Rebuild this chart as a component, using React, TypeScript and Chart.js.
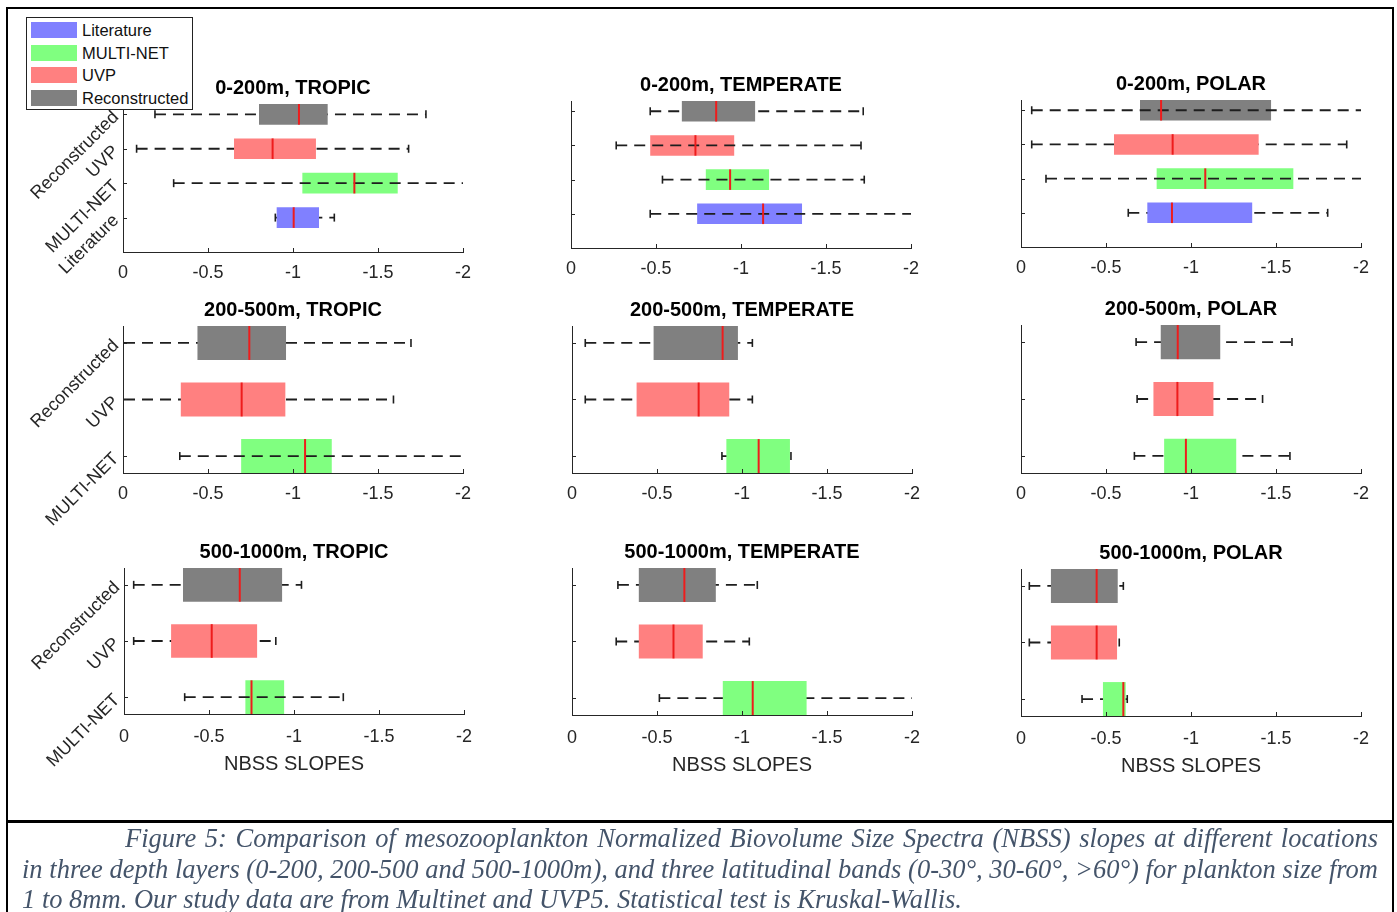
import React, { useEffect, useRef } from 'react';
import { Chart, registerables } from 'chart.js';

Chart.register(...registerables);
Chart.defaults.font.family = "'Liberation Sans', Arial, Helvetica, sans-serif";

// ---------------- data ----------------
// groups listed bottom -> top
const GROUPS_TOP = ['Literature', 'MULTI-NET', 'UVP', 'Reconstructed'];
const GROUPS_DEEP = ['MULTI-NET', 'UVP', 'Reconstructed'];
const LEGEND_ITEMS = ['Literature', 'MULTI-NET', 'UVP', 'Reconstructed'];
const X_TICKS = [0, -0.5, -1, -1.5, -2];
const X_LABEL = 'NBSS SLOPES';
const PANEL_TITLES = [
  '0-200m, TROPIC', '0-200m, TEMPERATE', '0-200m, POLAR',
  '200-500m, TROPIC', '200-500m, TEMPERATE', '200-500m, POLAR',
  '500-1000m, TROPIC', '500-1000m, TEMPERATE', '500-1000m, POLAR',
];

// one row per panel, values in group order (bottom -> top)
const WHISKER_LOW = [
  [-0.896, -0.298, -0.08, -0.188],
  [-0.466, -0.538, -0.266, -0.466],
  [-0.631, -0.147, -0.063, -0.063],
  [-0.334, 0.1, 0.1],
  [-0.882, -0.078, -0.078],
  [-0.667, -0.683, -0.677],
  [-0.357, -0.057, -0.057],
  [-0.514, -0.26, -0.27],
  [-0.359, -0.049, -0.049],
];
const Q1 = [
  [-0.904, -1.055, -0.653, -0.8],
  [-0.742, -0.793, -0.466, -0.652],
  [-0.743, -0.798, -0.547, -0.7],
  [-0.695, -0.34, -0.438],
  [-0.908, -0.38, -0.48],
  [-0.842, -0.779, -0.822],
  [-0.714, -0.277, -0.347],
  [-0.887, -0.393, -0.393],
  [-0.482, -0.176, -0.176],
];
const MEDIAN = [
  [-1.004, -1.361, -0.88, -1.035],
  [-1.13, -0.936, -0.732, -0.854],
  [-0.888, -1.084, -0.892, -0.824],
  [-1.071, -0.698, -0.743],
  [-1.098, -0.745, -0.886],
  [-0.97, -0.92, -0.922],
  [-0.75, -0.516, -0.681],
  [-1.063, -0.597, -0.661],
  [-0.602, -0.445, -0.445],
];
const Q3 = [
  [-1.153, -1.616, -1.135, -1.204],
  [-1.359, -1.165, -0.96, -1.083],
  [-1.36, -1.602, -1.398, -1.471],
  [-1.228, -0.955, -0.959],
  [-1.282, -0.925, -0.976],
  [-1.266, -1.132, -1.172],
  [-0.942, -0.783, -0.93],
  [-1.38, -0.769, -0.846],
  [-0.616, -0.565, -0.569],
];
const WHISKER_HIGH = [
  [-1.243, -2.1, -1.68, -1.782],
  [-2.1, -1.725, -1.706, -1.719],
  [-1.804, -2.1, -1.916, -2.1],
  [-2.1, -1.591, -1.694],
  [-1.288, -1.061, -1.061],
  [-1.582, -1.421, -1.594],
  [-1.29, -0.893, -1.044],
  [-2.1, -1.043, -1.09],
  [-0.625, -0.578, -0.602],
];
// whisker line visible across the box
const DASH_THROUGH = [
  [false, true, false, false],
  [true, true, true, false],
  [false, true, false, true],
  [true, false, false],
  [false, false, false],
  [false, false, false],
  [true, false, false],
  [false, false, false],
  [false, false, false],
];

const CAPTION_LINES = [
  'Figure 5: Comparison of mesozooplankton Normalized Biovolume Size Spectra (NBSS) slopes at different locations',
  'in three depth layers (0-200, 200-500 and 500-1000m), and three latitudinal bands (0-30°, 30-60°, >60°) for plankton size from',
  '1 to 8mm. Our study data are from Multinet and UVP5. Statistical test is Kruskal-Wallis.',
];

// ---------------- style / layout ----------------
const COLORS: Record<string, string> = {
  Literature: '#8080ff',
  'MULTI-NET': '#80ff80',
  UVP: '#ff8080',
  Reconstructed: '#808080',
};
const AXIS = '#262626';
const WHISKER = '#1e1e1e';
const MEDIAN_COLOR = '#ee1c1c';
const BOX_HALF = 0.3;
const PLOT_W = 340;
const PANEL_BOX = [
  { left: 123, top: 104, bottom: 252 },
  { left: 571, top: 101, bottom: 248 },
  { left: 1021, top: 100, bottom: 247 },
  { left: 123, top: 326, bottom: 473 },
  { left: 572, top: 326, bottom: 473 },
  { left: 1021, top: 325, bottom: 473 },
  { left: 124, top: 568, bottom: 714 },
  { left: 572, top: 568, bottom: 715 },
  { left: 1021, top: 569, bottom: 716 },
];

const innerTicks = {
  id: 'innerTicks',
  afterDatasetsDraw(chart: any) {
    const { ctx, chartArea, scales } = chart;
    const x = scales.x;
    const y = scales.y;
    ctx.save();
    ctx.strokeStyle = AXIS;
    ctx.lineWidth = 1;
    ctx.beginPath();
    x.ticks.forEach((t: any) => {
      const px = Math.round(x.getPixelForValue(t.value)) + 0.5;
      ctx.moveTo(px, chartArea.bottom);
      ctx.lineTo(px, chartArea.bottom - 4);
    });
    y.ticks.forEach((t: any) => {
      const py = Math.round(y.getPixelForValue(t.value)) + 0.5;
      ctx.moveTo(chartArea.left, py);
      ctx.lineTo(chartArea.left + 4, py);
    });
    ctx.stroke();
    ctx.restore();
  },
};

function Panel({ idx }: { idx: number }) {
  const ref = useRef<HTMLCanvasElement>(null);
  const box = PANEL_BOX[idx];
  const col = idx % 3;
  const row = Math.floor(idx / 3);
  const L = col === 0 ? 115 : 45;
  const B = row === 0 ? 60 : row === 1 ? 85 : 80;
  const T = 32;
  const plotH = box.bottom - box.top;
  const w = PLOT_W + 2 * L;
  const h = T + plotH + B;

  useEffect(() => {
    const groups = row === 0 ? GROUPS_TOP : GROUPS_DEEP;
    const cats = groups.map((_, i) => i + 1);
    const yMin = row === 0 ? 0 : 0.7;
    const yMax = row === 0 ? 4.3 : 3.3;
    const datasets: any[] = [];
    datasets.push({
      type: 'bar',
      data: groups.map((g, i) => ({ y: cats[i], x: [Q1[idx][i], Q3[idx][i]] })),
      backgroundColor: groups.map((g) => COLORS[g]),
      borderWidth: 0,
      barPercentage: BOX_HALF * 2,
      categoryPercentage: 1,
      order: 2,
    });
    groups.forEach((g, i) => {
      datasets.push({
        type: 'line',
        data: [
          { x: WHISKER_LOW[idx][i], y: cats[i] },
          { x: WHISKER_HIGH[idx][i], y: cats[i] },
        ],
        borderColor: WHISKER,
        borderWidth: 1.8,
        borderDash: [11, 7],
        pointRadius: 0,
        fill: false,
        order: DASH_THROUGH[idx][i] ? 1 : 3,
      });
    });
    datasets.push({
      type: 'line',
      showLine: false,
      data: groups.flatMap((g, i) => [
        { x: WHISKER_LOW[idx][i], y: cats[i] },
        { x: WHISKER_HIGH[idx][i], y: cats[i] },
      ]),
      pointStyle: 'line',
      pointRotation: 90,
      pointRadius: 4,
      pointBorderColor: WHISKER,
      pointBorderWidth: 1.6,
      borderColor: WHISKER,
      order: 1,
    });
    datasets.push({
      type: 'line',
      showLine: false,
      data: groups.map((g, i) => ({ x: MEDIAN[idx][i], y: cats[i] })),
      pointStyle: 'line',
      pointRotation: 90,
      pointRadius: (c: any) => {
        const ys = c.chart.scales.y;
        return Math.abs(ys.getPixelForValue(1) - ys.getPixelForValue(1 + BOX_HALF));
      },
      pointBorderColor: MEDIAN_COLOR,
      pointBorderWidth: 2,
      borderColor: MEDIAN_COLOR,
      order: 0,
    });

    const chart = new Chart(ref.current as HTMLCanvasElement, {
      type: 'bar',
      data: { datasets },
      plugins: [innerTicks],
      options: {
        responsive: false,
        animation: false,
        indexAxis: 'y',
        events: [],
        layout: { padding: 0 },
        plugins: {
          legend: { display: false },
          tooltip: { enabled: false },
          title: {
            display: true,
            text: PANEL_TITLES[idx],
            color: '#000',
            font: { size: 20, weight: 'bold' },
            padding: { top: 4, bottom: 4 },
          },
        },
        scales: {
          x: {
            type: 'linear',
            min: -2,
            max: 0,
            reverse: true,
            offset: false,
            grid: { display: false, drawTicks: false },
            border: { display: true, color: AXIS, width: 1 },
            ticks: {
              color: AXIS,
              font: { size: 18 },
              padding: row === 2 ? 12 : 10,
              autoSkip: false,
              maxRotation: 0,
              minRotation: 0,
              callback: (v: any) => String(v),
            },
            afterBuildTicks: (s: any) => {
              s.ticks = X_TICKS.map((v) => ({ value: v }));
            },
            afterFit: (s: any) => {
              s.height = B;
            },
            title: row === 2
              ? { display: true, text: X_LABEL, color: AXIS, font: { size: 20 }, padding: { top: 0, bottom: B - 62 } }
              : { display: false },
          },
          y: {
            type: 'linear',
            position: 'left',
            min: yMin,
            max: yMax,
            offset: false,
            grid: { display: false, drawTicks: false, offset: false },
            border: { display: true, color: AXIS, width: 1 },
            ticks: {
              display: col === 0,
              color: AXIS,
              font: { size: 18 },
              padding: 7,
              minRotation: 45,
              maxRotation: 45,
              autoSkip: false,
              callback: (v: any) => groups[Math.round(v) - 1] ?? '',
            },
            afterBuildTicks: (s: any) => {
              s.ticks = cats.map((v) => ({ value: v }));
            },
            afterFit: (s: any) => {
              s.width = L;
            },
          },
          y2: {
            type: 'linear',
            position: 'right',
            display: true,
            grid: { display: false, drawTicks: false },
            border: { display: false },
            ticks: { display: false },
            afterFit: (s: any) => {
              s.width = L;
            },
          },
        },
      } as any,
    });
    return () => chart.destroy();
  }, [idx]);

  return (
    <canvas
      ref={ref}
      width={w}
      height={h}
      style={{ position: 'absolute', left: box.left - L, top: box.top - T, width: w, height: h }}
    />
  );
}

function Legend() {
  return (
    <div
      style={{
        position: 'absolute',
        left: 26,
        top: 17,
        width: 167,
        height: 93,
        border: '1px solid #222',
        background: '#fff',
        boxSizing: 'border-box',
        zIndex: 5,
        fontFamily: "'Liberation Sans', Arial, sans-serif",
        fontSize: 16.5,
        color: '#111',
      }}
    >
      {LEGEND_ITEMS.map((name, i) => (
        <div key={name} style={{ position: 'absolute', left: 4, top: 4 + i * 22.6, height: 16, display: 'flex', alignItems: 'center' }}>
          <div style={{ width: 46, height: 16, background: COLORS[name] }} />
          <span style={{ marginLeft: 5, lineHeight: '16px', whiteSpace: 'nowrap' }}>{name}</span>
        </div>
      ))}
    </div>
  );
}

export default function App() {
  const captionBase: React.CSSProperties = {
    position: 'absolute',
    fontFamily: "'Liberation Serif', 'Times New Roman', serif",
    fontStyle: 'italic',
    fontSize: 26.5,
    lineHeight: '30px',
    height: 30,
    color: '#44546A',
    overflow: 'hidden',
  };
  return (
    <div style={{ position: 'absolute', left: 0, top: 0, width: 1397, height: 912, overflow: 'hidden', background: '#fff' }}>
      {PANEL_BOX.map((_, i) => (
        <Panel key={i} idx={i} />
      ))}
      <Legend />
      <div style={{ position: 'absolute', left: 6, top: 7, width: 1388, height: 960, border: '2px solid #000', boxSizing: 'border-box', pointerEvents: 'none' }} />
      <div style={{ position: 'absolute', left: 6, top: 820, width: 1388, height: 3, background: '#000' }} />
      <div style={{ ...captionBase, left: 125, top: 823, width: 1253, textAlign: 'justify', textAlignLast: 'justify' }}>{CAPTION_LINES[0]}</div>
      <div style={{ ...captionBase, left: 22, top: 854, width: 1356, textAlign: 'justify', textAlignLast: 'justify' }}>{CAPTION_LINES[1]}</div>
      <div style={{ ...captionBase, left: 22, top: 884, width: 1356, textAlign: 'left' }}>{CAPTION_LINES[2]}</div>
    </div>
  );
}
